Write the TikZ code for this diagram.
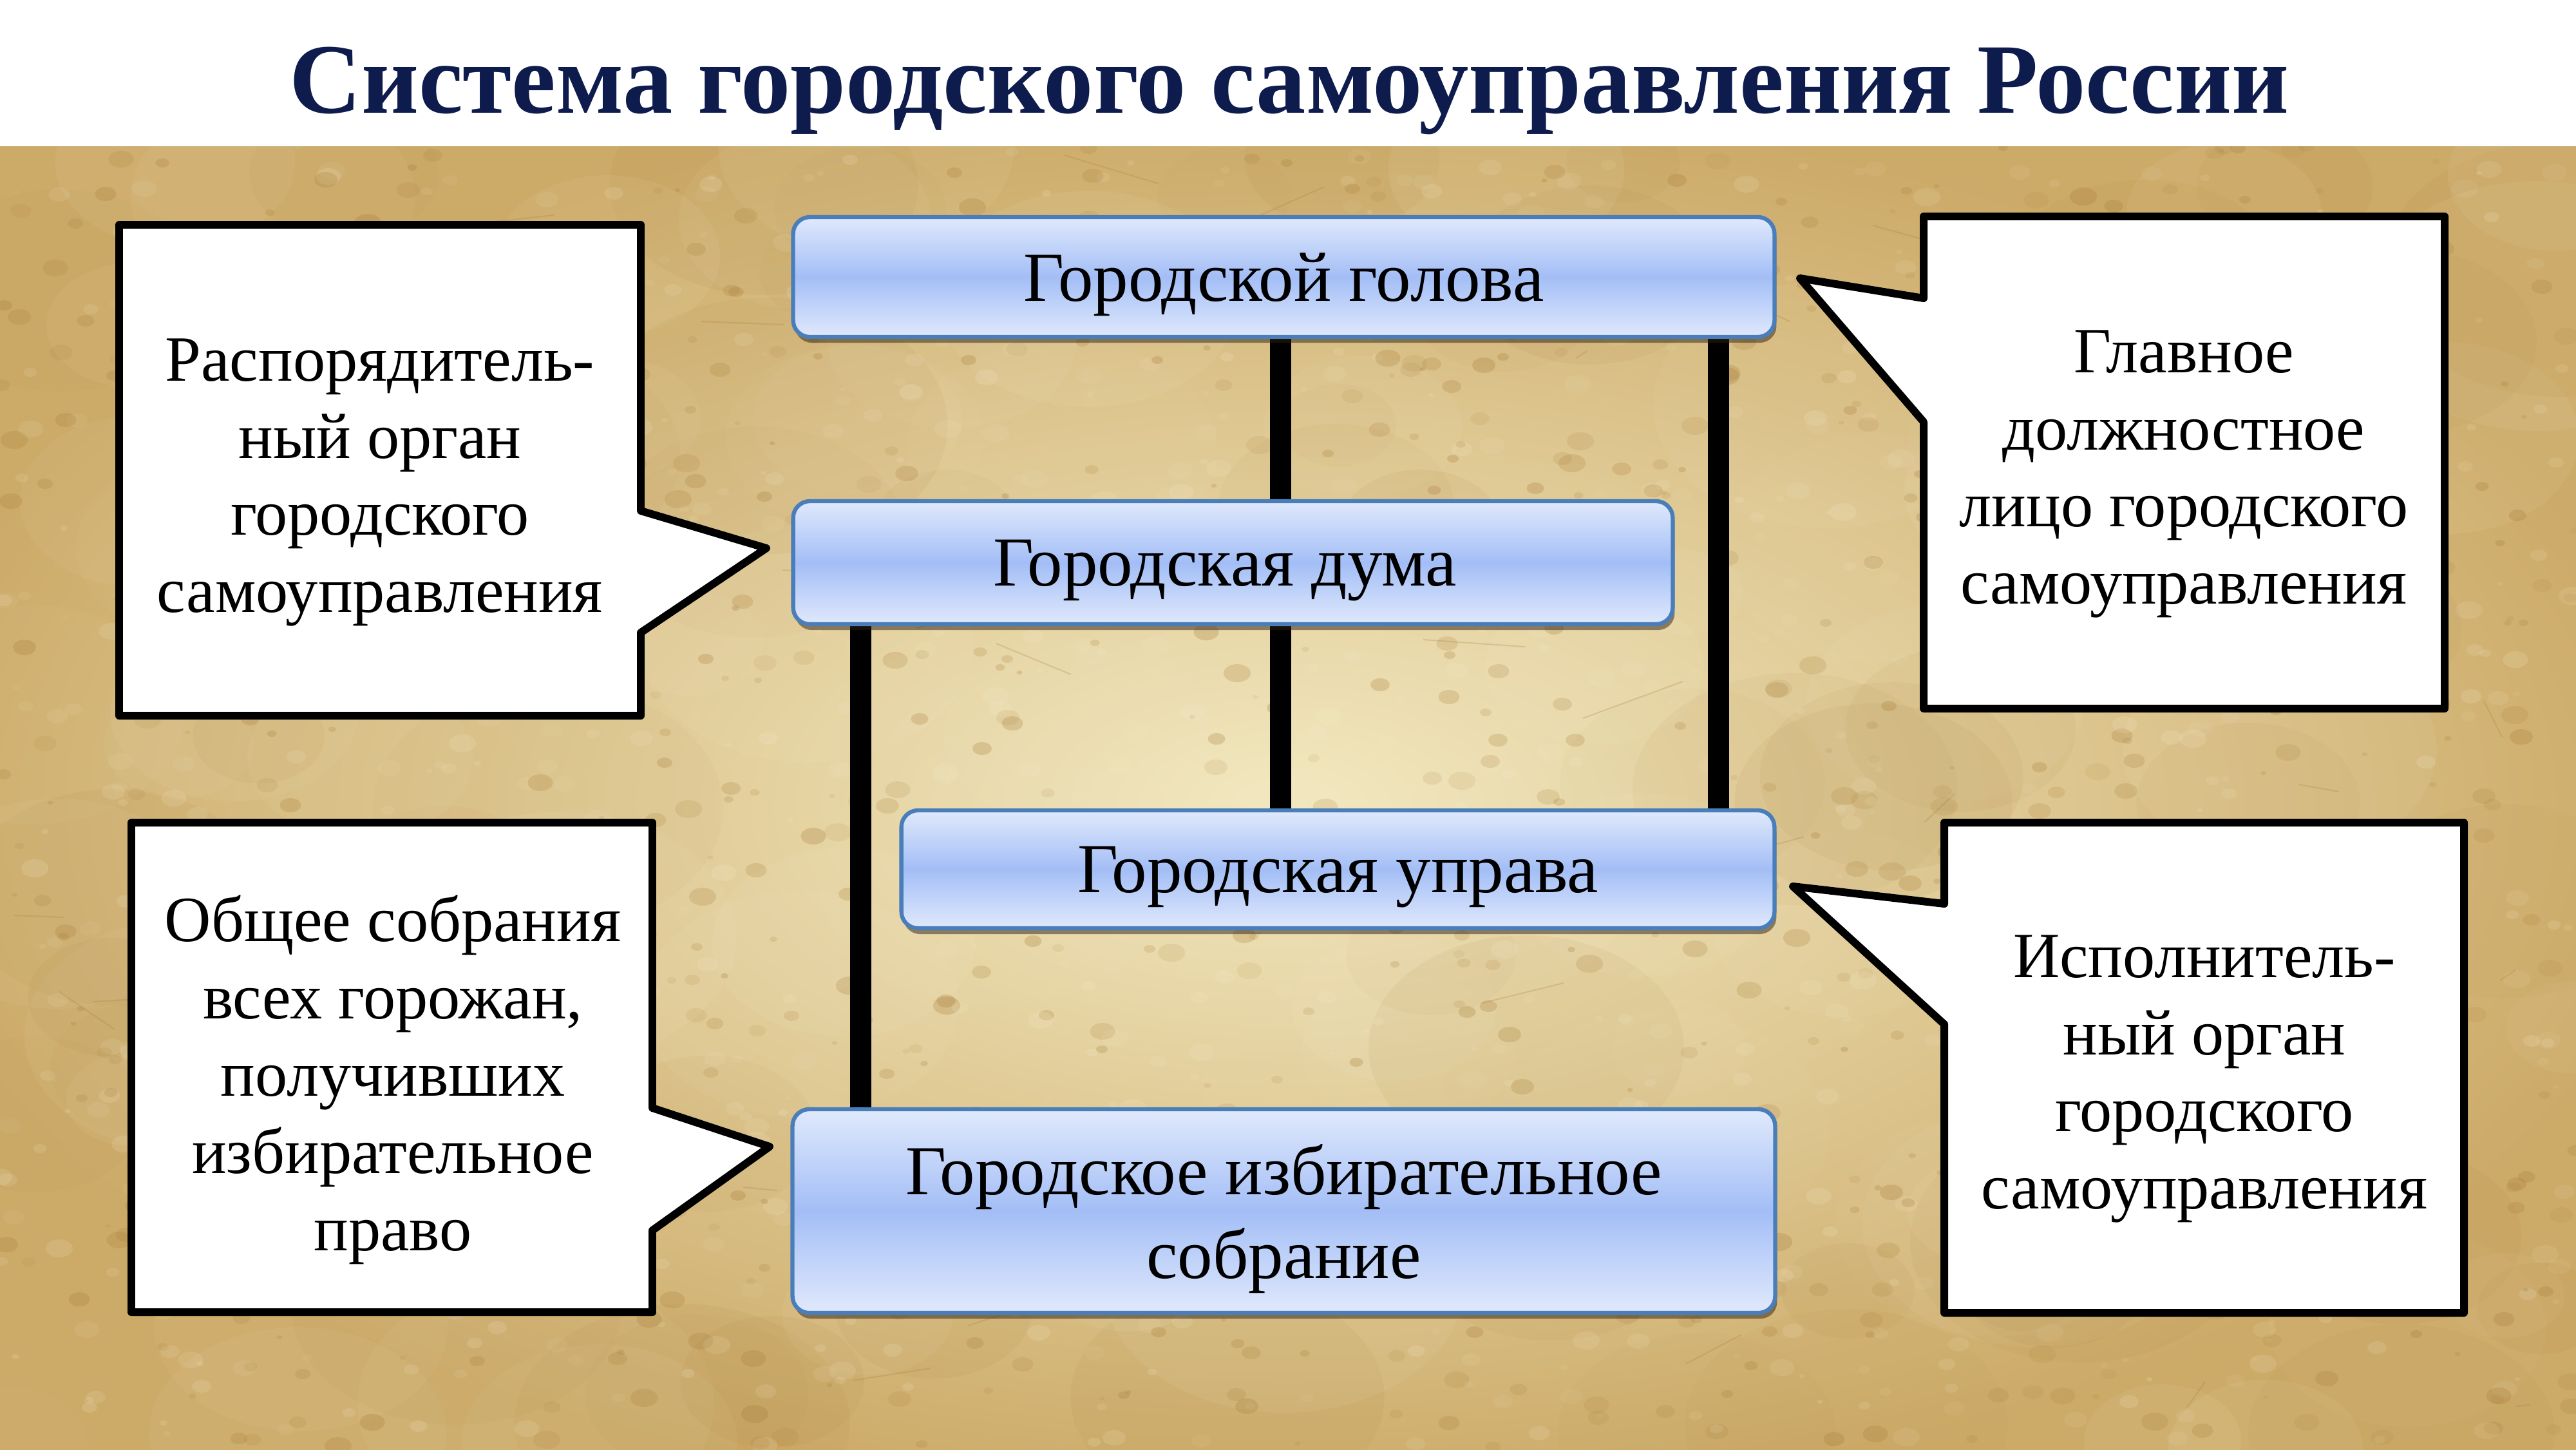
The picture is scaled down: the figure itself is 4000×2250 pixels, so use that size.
\documentclass[tikz,border=0pt]{standalone}
\usepackage{fontspec}
\setmainfont{Liberation Serif}
\usetikzlibrary{shadows,calc}
\definecolor{titleblue}{RGB}{14,27,77}
\definecolor{boxline}{RGB}{74,126,187}
\definecolor{boxlight}{RGB}{224,233,252}
\definecolor{boxmid}{RGB}{163,190,246}
\definecolor{parchLight}{RGB}{242,232,192}
\definecolor{parchEdge}{RGB}{204,170,104}
\definecolor{parchDark}{RGB}{168,126,58}
\definecolor{parchPale}{RGB}{248,240,212}
\pgfdeclarelayer{bg}\pgfdeclarelayer{lines}
\pgfsetlayers{bg,lines,main}
\tikzset{
 orgbox/.style={rounded corners=0.26cm, draw=boxline, line width=1.8pt,
   top color=boxlight, bottom color=boxlight, middle color=boxmid,
   align=center, font=\fontsize{31}{37}\selectfont, inner sep=0pt, text depth=0pt,
   drop shadow={shadow xshift=0.03cm, shadow yshift=-0.09cm, fill=black!75!brown, opacity=0.5}},
 conn/.style={line width=9.4pt, draw=black},
 calloutshape/.style={draw=black, fill=white, line width=3.4pt, line join=round},
 calltext/.style={align=center, font=\fontsize{28.5}{34.1}\selectfont, inner sep=0pt},
}
\begin{document}
\begin{tikzpicture}[x=0.01cm, y=-0.01cm]
\useasboundingbox (0,0) rectangle (4000,2250);
\begin{pgfonlayer}{bg}
\fill[white] (0,0) rectangle (4000,2250);
\begin{scope}
\clip (0,227) rectangle (4000,2250);
\shade[inner color=parchLight, outer color=parchEdge] (-200,150) rectangle (4200,2350);
\pgfmathsetseed{4242}
\foreach \i in {1,...,140}{
  \pgfmathsetmacro{\px}{random(0,4000)}
  \pgfmathsetmacro{\py}{random(227,2250)}
  \pgfmathsetmacro{\rr}{random(60,200)}
  \pgfmathsetmacro{\op}{random(3,8)/100}
  \ifodd\i
    \fill[parchDark, opacity=\op] (\px,\py) ellipse ({\rr*1.4} and {\rr});
  \else
    \fill[parchPale, opacity=\op] (\px,\py) ellipse ({\rr*1.4} and {\rr});
  \fi
}
\foreach \i in {1,...,1800}{
  \pgfmathsetmacro{\px}{random(0,4000)}
  \pgfmathsetmacro{\py}{random(227,2250)}
  \pgfmathsetmacro{\rr}{random(3,14)}
  \ifodd\i
    \pgfmathsetmacro{\op}{random(10,28)/100}
    \fill[parchDark, opacity=\op] (\px,\py) ellipse ({\rr*1.5} and {\rr});
  \else
    \pgfmathsetmacro{\op}{random(6,16)/100}
    \fill[parchPale, opacity=\op] (\px,\py) ellipse ({\rr*1.5} and {\rr});
  \fi
}
\foreach \i in {1,...,40}{
  \pgfmathsetmacro{\px}{random(0,4000)}
  \pgfmathsetmacro{\py}{random(227,2250)}
  \pgfmathsetmacro{\dx}{random(-160,160)}
  \pgfmathsetmacro{\dy}{random(-60,60)}
  \draw[parchDark, opacity=0.25, line width=0.6pt] (\px,\py) -- ++(\dx,\dy);
}
\end{scope}
\end{pgfonlayer}

\node[font=\bfseries\fontsize{44}{50}\selectfont, text=titleblue, anchor=base, inner sep=0pt] (title) at (2002,175) {Система городского самоуправления России};

\node[orgbox, minimum width=15.23cm, minimum height=1.86cm] (golova) at (1993.5,430) {Городской голова};
\node[orgbox, minimum width=13.65cm, minimum height=1.91cm] (duma) at (1914.5,873.5) {\hspace*{-0.25cm}Городская дума};
\node[orgbox, minimum width=13.55cm, minimum height=1.83cm] (uprava) at (2077.5,1349.5) {Городская управа};
\node[orgbox, minimum width=15.25cm, minimum height=3.16cm] (sobr) at (1993.5,1880) {Городское избирательное\\собрание};

\begin{pgfonlayer}{lines}
\draw[conn] ($(golova.south)+(-5.5,0)$) -- ($(golova.south |- duma.north)+(-5.5,0)$);
\draw[conn] ($(golova.south |- duma.south)+(-5.5,0)$) -- ($(golova.south |- uprava.north)+(-5.5,0)$);
\draw[conn] ($(golova.south east)+(-90,0)$) -- ($(golova.south east |- uprava.north)+(-90,0)$);
\draw[conn] ($(duma.south west)+(108,0)$) -- ($(duma.south west |- sobr.north)+(108,0)$);
\end{pgfonlayer}

\draw[calloutshape] (185,349) -- (995,349) -- (995,793) -- (1190,851) -- (995,982) -- (995,1111) -- (185,1111) -- cycle;
\draw[calloutshape] (2987,336) -- (3796,336) -- (3796,1100) -- (2987,1100) -- (2987,655) -- (2795,432) -- (2987,463) -- cycle;
\draw[calloutshape] (204,1277) -- (1013,1277) -- (1013,1720) -- (1195,1780) -- (1013,1910) -- (1013,2037) -- (204,2037) -- cycle;
\draw[calloutshape] (3019,1277) -- (3826,1277) -- (3826,2038) -- (3019,2038) -- (3019,1590) -- (2784,1376) -- (3019,1403) -- cycle;

\node[calltext] (cA) at (590,749) {Распорядитель-\\ный орган\\городского\\самоуправления};
\node[calltext] (cB) at (3391,736) {Главное\\должностное\\лицо городского\\самоуправления};
\node[calltext] (cC) at (610,1676) {Общее собрания\\всех горожан,\\получивших\\избирательное\\право};
\node[calltext] (cD) at (3423,1675) {Исполнитель-\\ный орган\\городского\\самоуправления};
\end{tikzpicture}
\end{document}
